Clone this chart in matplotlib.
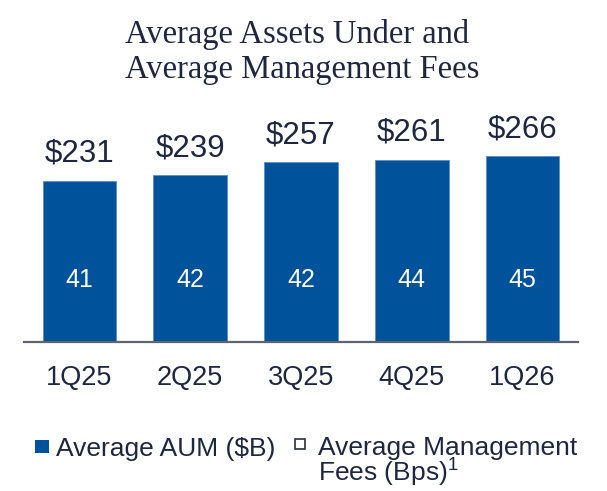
import matplotlib
matplotlib.use('Agg')
import matplotlib.pyplot as plt
from matplotlib.patches import Rectangle

# Данные
quarters = ['1Q25', '2Q25', '3Q25', '4Q25', '1Q26']
aum = [231, 239, 257, 261, 266]
fees = [41, 42, 42, 44, 45]

bar_color = '#00539b'
text_color = '#1f2740'

plt.rcParams['mathtext.fontset'] = 'custom'
plt.rcParams['mathtext.rm'] = 'Liberation Sans'
plt.rcParams['mathtext.it'] = 'Liberation Sans'

W, H = 607, 491
fig = plt.figure(figsize=(W / 100, H / 100), dpi=100)

# Оси: базовая линия на y=342 px, столбцы от -0.5 до 4.5
ax = fig.add_axes([24 / W, (H - 342.3) / H, 554 / W, 210 / H])
x = range(len(quarters))
ax.bar(x, aum, width=0.663, color=bar_color, edgecolor='#5b8ec4', linewidth=0.6)
ax.set_xlim(-0.5, 4.5)
ax.set_ylim(0, 300)

for s in ['top', 'left', 'right']:
    ax.spines[s].set_visible(False)
ax.spines['bottom'].set_color('#5f6472')
ax.spines['bottom'].set_linewidth(1.6)
ax.set_yticks([])
ax.set_xticks(list(x))
ax.set_xticklabels(quarters, fontsize=19.5, family='Liberation Sans', color=text_color)
ax.tick_params(axis='x', length=0, pad=16)

# Подписи над столбцами и внутри
for i, v in enumerate(aum):
    ax.annotate(f'${v}', (i, v), xytext=(0, 13.5), textcoords='offset points',
                ha='center', va='baseline', fontsize=22.5,
                family='Liberation Sans', color=text_color)
for i, f in enumerate(fees):
    ax.text(i, 89, str(f), ha='center', va='center', fontsize=18,
            family='Liberation Sans', color='white')

# Заголовок
fig.text(125 / W, 1 - 43.3 / H, 'Average Assets Under and', ha='left', va='baseline',
         fontsize=23.5, family='Liberation Serif', color=text_color)
fig.text(125 / W, 1 - 78.3 / H, 'Average Management Fees', ha='left', va='baseline',
         fontsize=23.5, family='Liberation Serif', color=text_color)

# Легенда
fig.patches.append(Rectangle((35 / W, 1 - 453 / H), 14 / W, 13 / H,
                             transform=fig.transFigure, facecolor=bar_color,
                             edgecolor='none'))
fig.text(56 / W, 1 - 455.7 / H, 'Average AUM ($B)', ha='left', va='baseline',
         fontsize=19, family='Liberation Sans', color=text_color)
fig.patches.append(Rectangle((294.5 / W, 1 - 449 / H), 10.5 / W, 10.5 / H,
                             transform=fig.transFigure, facecolor='white',
                             edgecolor='#3a3f4d', linewidth=1.3))
# базовая линия — по последней строке
fig.text(318 / W, 1 - 481.7 / H, 'Average Management\nFees (Bps)$^{1}$',
         ha='left', va='baseline', linespacing=0.88,
         fontsize=19, family='Liberation Sans', color=text_color)

fig.savefig('out.png', dpi=100)
